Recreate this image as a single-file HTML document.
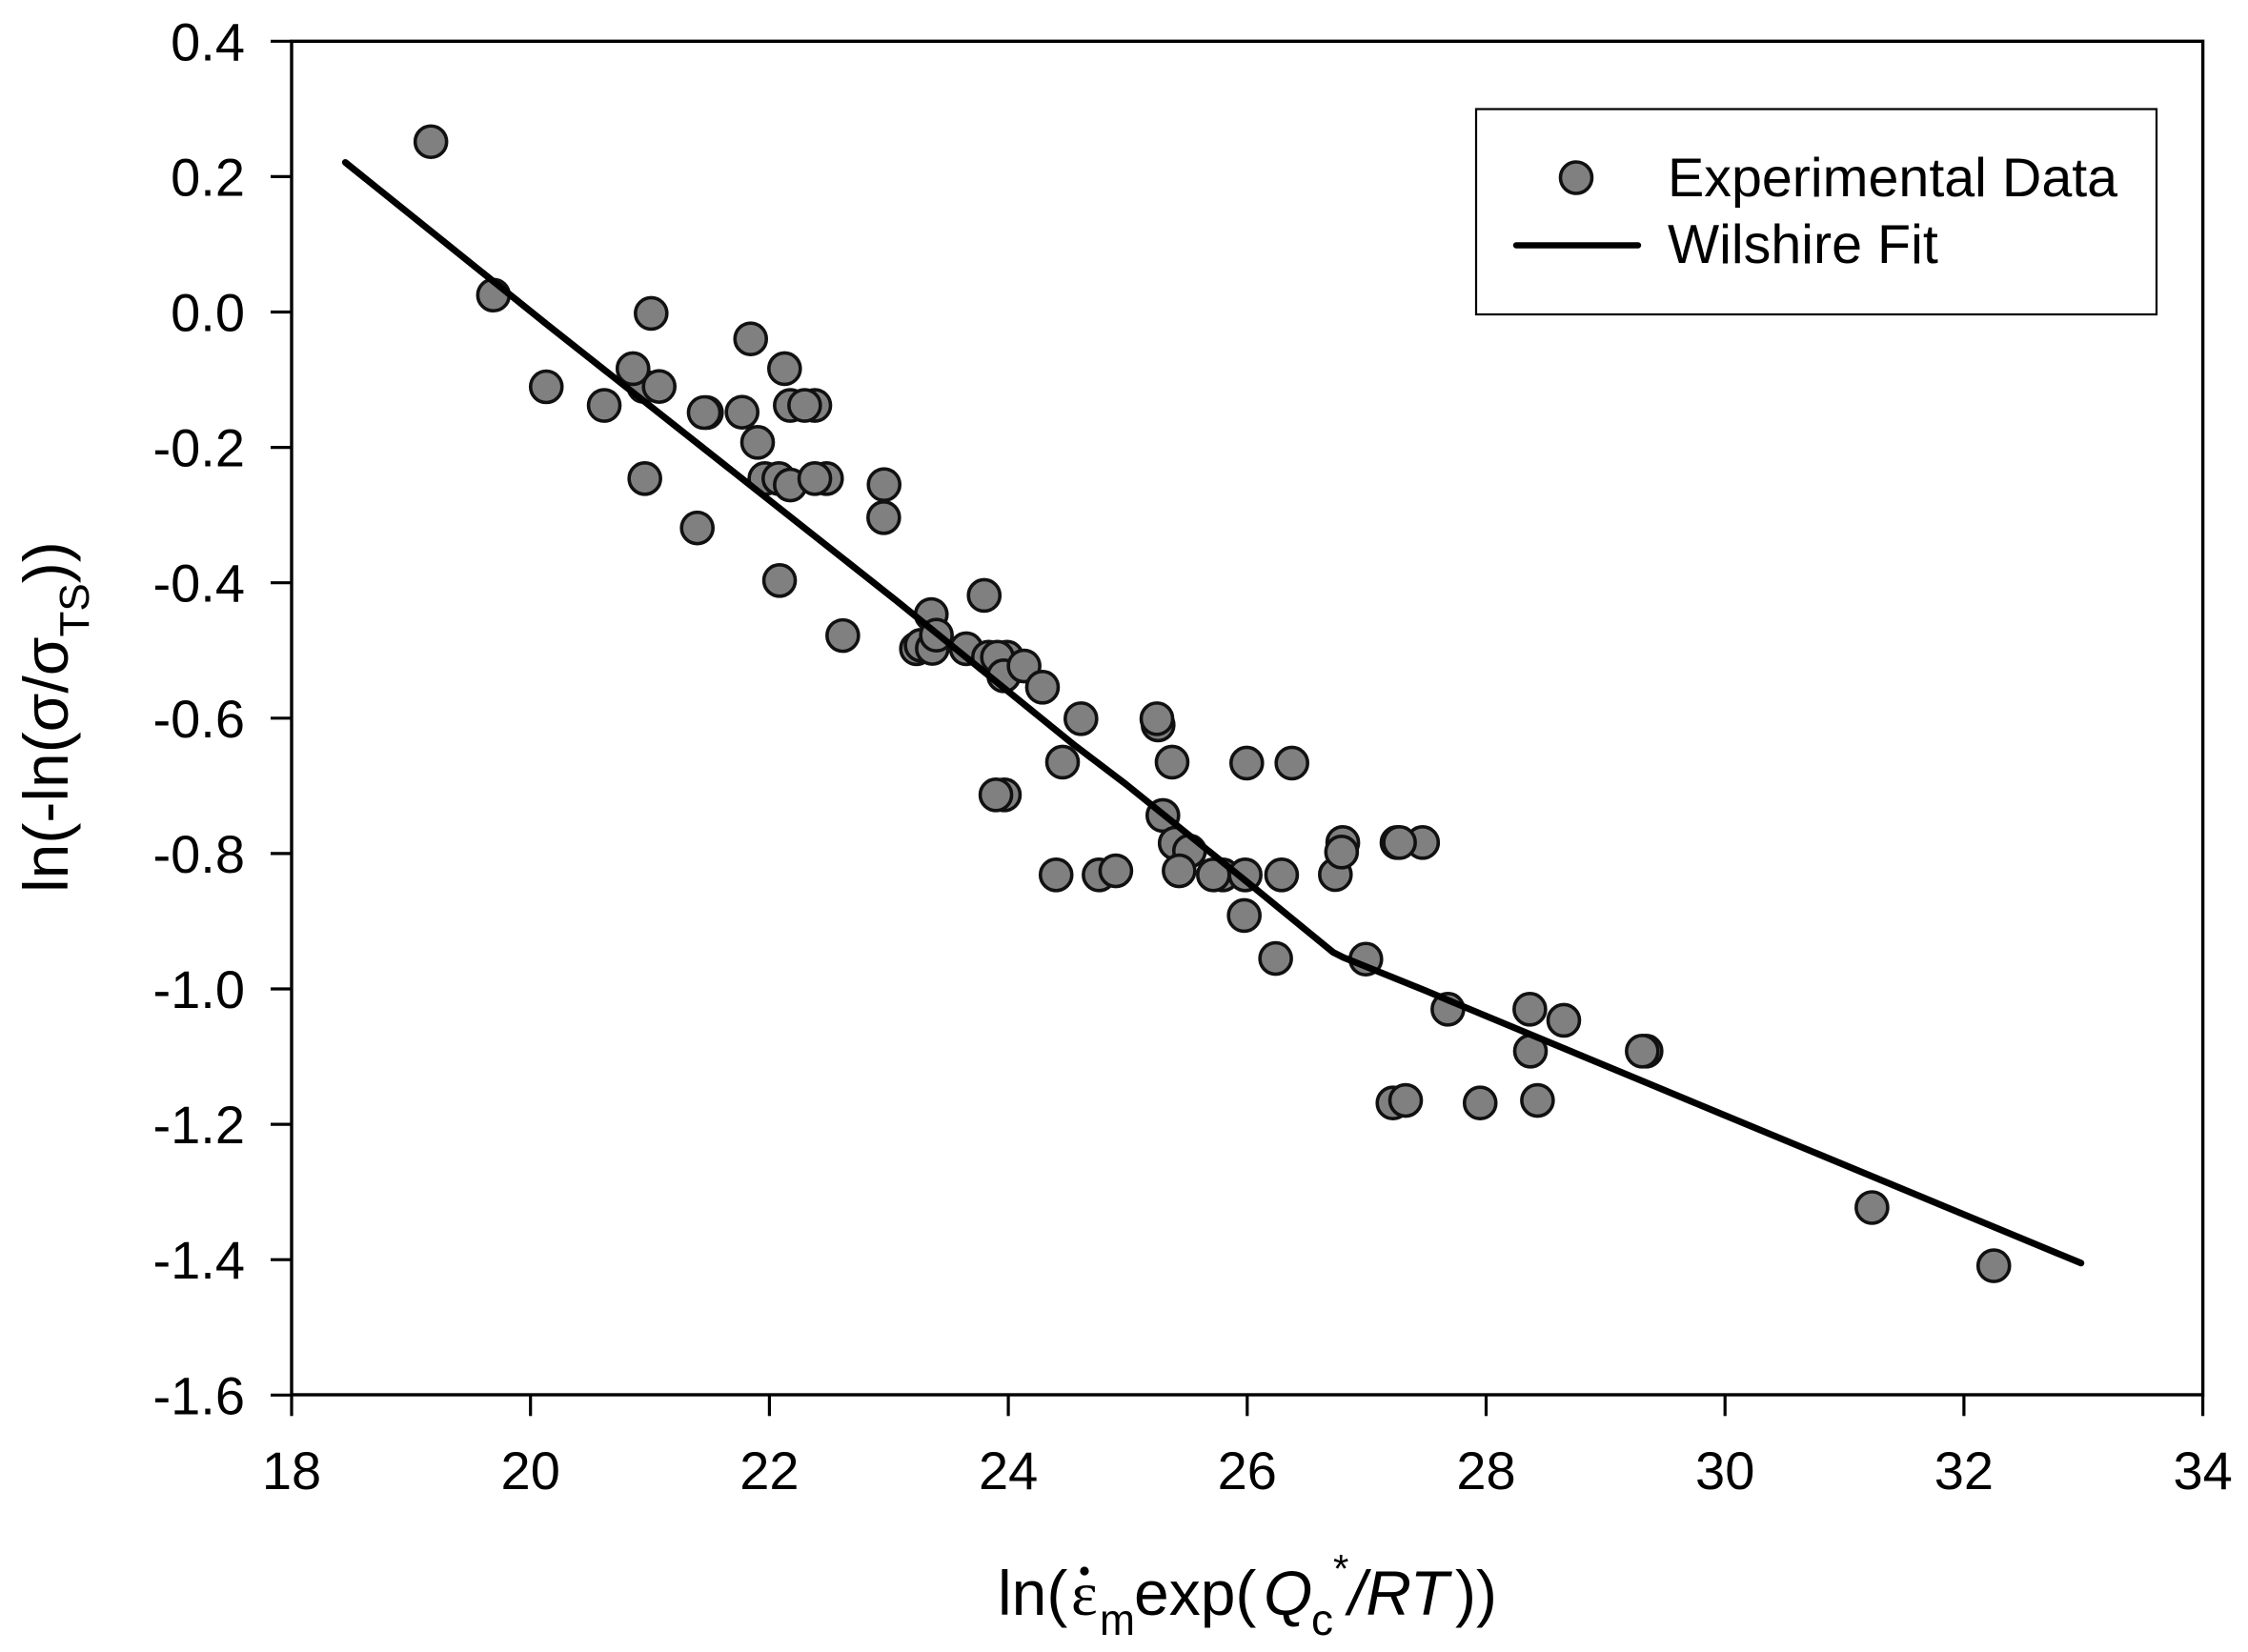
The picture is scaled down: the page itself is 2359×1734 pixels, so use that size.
<!DOCTYPE html>
<html lang="en">
<head>
<meta charset="utf-8">
<title>Wilshire Fit Chart</title>
<style>
html,body{margin:0;padding:0;background:#fff;}
svg{display:block;}
text{font-family:"Liberation Sans",sans-serif;fill:#000;}
</style>
</head>
<body>
<svg id="chart" width="2359" height="1734" viewBox="0 0 2359 1734" xmlns="http://www.w3.org/2000/svg">
  <rect x="0" y="0" width="2359" height="1734" fill="#fff"/>
  <rect x="306" y="43.3" width="2005.6" height="1420.7" fill="none" stroke="#000" stroke-width="3.4"/>
  <g id="ticks"></g>
  <g id="points"></g>
  <g id="fit"></g>

  <g>
    <rect x="1549" y="114.5" width="714" height="215.5" fill="#fff" stroke="#000" stroke-width="2.2"/>
    <circle cx="1654" cy="186.5" r="16.5" fill="#808080" stroke="#111" stroke-width="3.6"/>
    <line x1="1591" y1="257.5" x2="1719" y2="257.5" stroke="#000" stroke-width="6.4" stroke-linecap="round"/>
    <text x="1750" y="206" font-size="57.4">Experimental Data</text>
    <text x="1750" y="276" font-size="57.4">Wilshire Fit</text>
  </g>

  <g>
    <text transform="translate(71,937) rotate(-90)" font-size="66">ln(-ln(σ/σ<tspan font-size="44" dy="22">TS</tspan><tspan dy="-22">))</tspan></text>
  </g>

  <g>
    <text x="1047" y="1695" font-size="66">ln(</text>
    <text x="1124" y="1695" font-size="66" style="font-family:'Liberation Serif',serif">ε</text>
    <circle cx="1138" cy="1649" r="4.6" fill="#000"/>
    <text x="1154" y="1716" font-size="46" textLength="37" lengthAdjust="spacingAndGlyphs">m</text>
    <text x="1190" y="1695" font-size="66">exp(</text>
    <text x="1326" y="1695" font-size="66" font-style="italic">Q</text>
    <text x="1376" y="1716" font-size="46" textLength="23" lengthAdjust="spacingAndGlyphs">c</text>
    <text x="1399" y="1661" font-size="42">*</text>
    <text x="1415" y="1695" font-size="66" font-style="italic">/RT</text>
    <text x="1527" y="1695" font-size="66">))</text>
  </g>
</svg>
<script>
const xTicks = [18, 20, 22, 24, 26, 28, 30, 32, 34];
const yTicks = [0.4, 0.2, 0.0, -0.2, -0.4, -0.6, -0.8, -1.0, -1.2, -1.4, -1.6];
const yTickLabels = ["0.4", "0.2", "0.0", "-0.2", "-0.4", "-0.6", "-0.8", "-1.0", "-1.2", "-1.4", "-1.6"];

const dataX = [19.166, 19.69, 20.132, 20.617, 21.01, 20.949, 21.077, 20.858, 20.957, 21.396,
  21.473, 21.454, 21.771, 21.843, 22.127, 21.901, 21.962, 22.079, 22.175, 22.38,
  22.175, 22.295, 22.478, 22.38, 22.96, 22.957, 22.085, 22.614, 23.798, 23.355,
  23.231, 23.27, 23.364, 23.398, 23.648, 23.834, 23.989, 23.909, 23.962, 24.132,
  24.286, 24.608, 24.454, 23.967, 23.896, 24.40, 24.76, 24.90, 25.254, 25.244,
  25.371, 25.294, 25.397, 25.517, 25.43, 25.796, 25.717, 25.983, 26.288, 25.975,
  26.238, 25.996, 26.374, 26.738, 26.80, 26.79, 27.468, 27.254, 27.275, 26.993,
  27.68, 28.366, 28.65, 28.371, 29.339, 29.307, 27.22, 27.326, 27.95, 28.43,
  31.23, 32.25];
const dataY = [0.2516, 0.025, -0.1105, -0.138, -0.002, -0.110, -0.110, -0.0837, -0.246, -0.319,
  -0.1485, -0.1485, -0.148, -0.0397, -0.0837, -0.1926, -0.246, -0.246, -0.2555, -0.138,
  -0.138, -0.138, -0.246, -0.246, -0.255, -0.3037, -0.3966, -0.478, -0.4187, -0.4469,
  -0.4975, -0.4923, -0.497, -0.4774, -0.4975, -0.510, -0.510, -0.510, -0.5374, -0.5229,
  -0.5543, -0.6008, -0.665, -0.7133, -0.7133, -0.8315, -0.8315, -0.8255, -0.610, -0.6008,
  -0.665, -0.7438, -0.7847, -0.7963, -0.8255, -0.8315, -0.8315, -0.8315, -0.8315, -0.8916,
  -0.955, -0.6664, -0.6664, -0.8311, -0.7837, -0.7978, -0.7837, -0.7837, -0.7837, -0.956,
  -1.03, -1.03, -1.0464, -1.0919, -1.0919, -1.0919, -1.1685, -1.1647, -1.1685, -1.1647,
  -1.323, -1.409];

const fitX = [18.45, 20.132, 23.058, 24.547, 24.986, 26.09, 26.72, 26.805, 27.496, 27.844, 29.92, 32.98];
const fitY = [0.221, -0.0176, -0.4257, -0.639, -0.6978, -0.855, -0.946, -0.9535, -1.0028, -1.0286, -1.181, -1.405];

const SVG_NS = "http://www.w3.org/2000/svg";
function xScale(v) { return 306 + (v - 18) * 125.35; }
function yScale(v) { return 43.3 + (0.4 - v) * 710.5; }

const ticksGroup = document.getElementById("ticks");
xTicks.forEach(function (t) {
  const line = document.createElementNS(SVG_NS, "line");
  
  
  line.setAttribute("x1", xScale(t));
  line.setAttribute("x2", xScale(t));
  line.setAttribute("y1", yScale(-1.6));
  line.setAttribute("y2", yScale(-1.6) + 22);
  line.setAttribute("stroke", "#000");
  line.setAttribute("stroke-width", "3.2");
  ticksGroup.appendChild(line);
  const label = document.createElementNS(SVG_NS, "text");
  
  
  label.setAttribute("x", xScale(t));
  label.setAttribute("y", 1563);
  label.setAttribute("font-size", "56");
  label.setAttribute("text-anchor", "middle");
  label.textContent = String(t);
  ticksGroup.appendChild(label);
});
yTicks.forEach(function (t, i) {
  const line = document.createElementNS(SVG_NS, "line");
  
  
  line.setAttribute("x1", xScale(18) - 22);
  line.setAttribute("x2", xScale(18));
  line.setAttribute("y1", yScale(t));
  line.setAttribute("y2", yScale(t));
  line.setAttribute("stroke", "#000");
  line.setAttribute("stroke-width", "3.2");
  ticksGroup.appendChild(line);
  const label = document.createElementNS(SVG_NS, "text");
  
  
  label.setAttribute("x", 257);
  label.setAttribute("y", yScale(t) + 20);
  label.setAttribute("font-size", "56");
  label.setAttribute("text-anchor", "end");
  label.textContent = yTickLabels[i];
  ticksGroup.appendChild(label);
});

const pointsGroup = document.getElementById("points");
dataX.forEach(function (x, i) {
  const c = document.createElementNS(SVG_NS, "circle");
  
  
  c.setAttribute("cx", xScale(x));
  c.setAttribute("cy", yScale(dataY[i]));
  c.setAttribute("r", "16.5");
  c.setAttribute("fill", "#808080");
  c.setAttribute("stroke", "#111");
  c.setAttribute("stroke-width", "3.6");
  pointsGroup.appendChild(c);
});

const fitPath = document.createElementNS(SVG_NS, "polyline");


fitPath.setAttribute("points", fitX.map(function (x, i) { return xScale(x) + "," + yScale(fitY[i]); }).join(" "));
fitPath.setAttribute("fill", "none");
fitPath.setAttribute("stroke", "#000");
fitPath.setAttribute("stroke-width", "7");
fitPath.setAttribute("stroke-linecap", "round");
fitPath.setAttribute("stroke-linejoin", "round");
document.getElementById("fit").appendChild(fitPath);
</script>
</body>
</html>
